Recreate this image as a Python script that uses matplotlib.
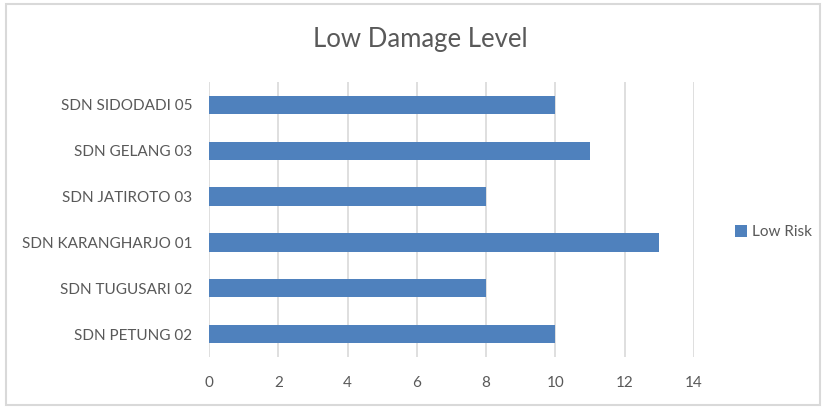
import matplotlib
matplotlib.use("Agg")
import matplotlib.pyplot as plt
from matplotlib.patches import Rectangle

# data (bottom to top, as drawn)
schools = ["SDN PETUNG 02", "SDN TUGUSARI 02", "SDN KARANGHARJO 01",
           "SDN JATIROTO 03", "SDN GELANG 03", "SDN SIDODADI 05"]
low_risk = [10, 8, 13, 8, 11, 10]
x_ticks = [0, 2, 4, 6, 8, 10, 12, 14]

text_col = "#595959"
bar_col = "#4F81BD"
grid_col = "#D9D9D9"

plt.rcParams["font.family"] = ["Lato", "DejaVu Sans"]

fig = plt.figure(figsize=(8.24, 4.07), dpi=100)
fig.patches.append(Rectangle((0.007, 0.005), 0.988, 0.985, transform=fig.transFigure,
                             fill=False, edgecolor="#D9D9D9", linewidth=1.5))

ax = fig.add_axes([209 / 824, 1 - 357 / 407, (694 - 209) / 824, (357 - 82) / 407])
ax.barh(range(len(schools)), low_risk, height=0.4, color=bar_col, label="Low Risk", zorder=3)

ax.set_xlim(0, 14)
ax.set_ylim(-0.5, len(schools) - 0.5)
ax.set_xticks(x_ticks)
ax.set_yticks(range(len(schools)))
ax.set_yticklabels(schools)
ax.grid(axis="x", color=grid_col, linewidth=1.2, zorder=0)
for s in ax.spines.values():
    s.set_visible(False)
ax.tick_params(axis="both", length=0, colors=text_col, labelsize=11)
ax.tick_params(axis="y", pad=12)
ax.tick_params(axis="x", pad=14)

fig.text(420 / 824, 1 - 40 / 407, "Low Damage Level", ha="center", va="center",
         fontsize=18.5, color=text_col)

leg = fig.legend(loc="center left", bbox_to_anchor=(721 / 824, 1 - 232 / 407),
                 frameon=False, handlelength=0.8, handleheight=0.8, handletextpad=0.3,
                 fontsize=11, labelcolor=text_col)

fig.savefig("out.png", dpi=100)
